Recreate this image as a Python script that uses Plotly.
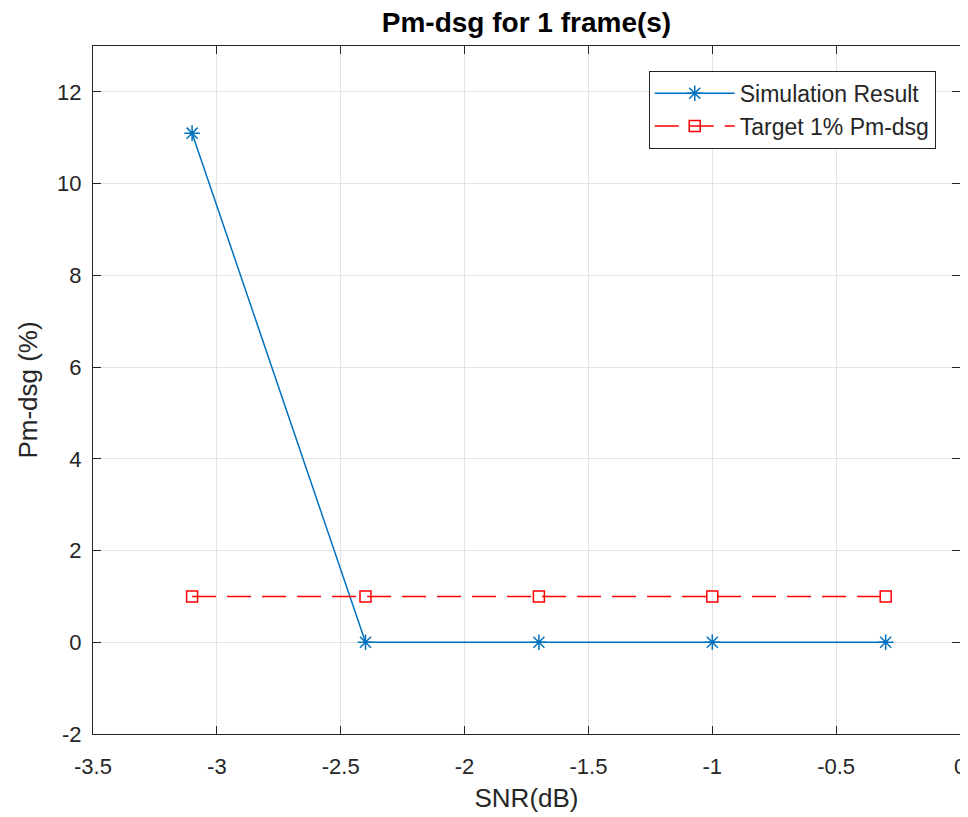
import plotly.graph_objects as go

snr = [-3.1, -2.4, -1.7, -1.0, -0.3]
pm_dsg = [11.1, 0, 0, 0, 0]
target = [1, 1, 1, 1, 1]
x_ticks = [-3.5, -3, -2.5, -2, -1.5, -1, -0.5, 0]
x_tick_labels = ["-3.5", "-3", "-2.5", "-2", "-1.5", "-1", "-0.5", "0"]
y_ticks = [-2, 0, 2, 4, 6, 8, 10, 12]
y_tick_labels = ["-2", "0", "2", "4", "6", "8", "10", "12"]

font_family = "Liberation Sans, Arial, Helvetica, sans-serif"

fig = go.Figure()
fig.add_trace(go.Scatter(
    x=snr, y=pm_dsg, mode="lines+markers", name="Simulation Result",
    line=dict(color="#0072BD", width=1.5),
    marker=dict(symbol="asterisk-open", size=13, color="#0072BD",
                line=dict(color="#0072BD", width=1.5)),
))
fig.add_trace(go.Scatter(
    x=snr, y=target, mode="lines+markers", name="Target 1% Pm-dsg",
    line=dict(color="#FF0000", width=1.5, dash="24px,11px"),
    marker=dict(symbol="square-open", size=11, color="#FF0000",
                line=dict(color="#FF0000", width=1.5)),
))

axis_common = dict(
    showgrid=True, gridcolor="#E3E3E3", gridwidth=1,
    ticks="inside", ticklen=8, tickcolor="#262626", tickwidth=1,
    showline=True, linecolor="#262626", linewidth=1, mirror="ticks",
    zeroline=False, automargin=False,
    tickfont=dict(family=font_family, size=22, color="#262626"),
)

fig.update_layout(
    width=968, height=817,
    paper_bgcolor="white", plot_bgcolor="white",
    margin=dict(l=85, r=16, t=38, b=91),
    title=dict(text="<b>Pm-dsg for 1 frame(s)</b>", x=0.5, xanchor="center",
               xref="paper", y=0.983, yanchor="middle",
               font=dict(family=font_family, size=28, color="#000000")),
    xaxis=dict(range=[-3.5, 0], tickvals=x_ticks, ticktext=x_tick_labels,
               ticklabelstandoff=13,
               title=dict(text="SNR(dB)", standoff=10,
                          font=dict(family=font_family, size=26, color="#262626")),
               **axis_common),
    yaxis=dict(range=[-2, 13], tickvals=y_ticks, ticktext=y_tick_labels,
               ticklabelstandoff=6,
               title=dict(text="Pm-dsg (%)", standoff=12,
                          font=dict(family=font_family, size=26, color="#262626")),
               **axis_common),
    legend=dict(x=0.972, y=0.964, xanchor="right", yanchor="top",
                bgcolor="white", bordercolor="#262626", borderwidth=1,
                font=dict(family=font_family, size=23, color="#262626"),
                tracegroupgap=0, itemwidth=80),
    showlegend=True,
)

fig.write_html("out.html")
